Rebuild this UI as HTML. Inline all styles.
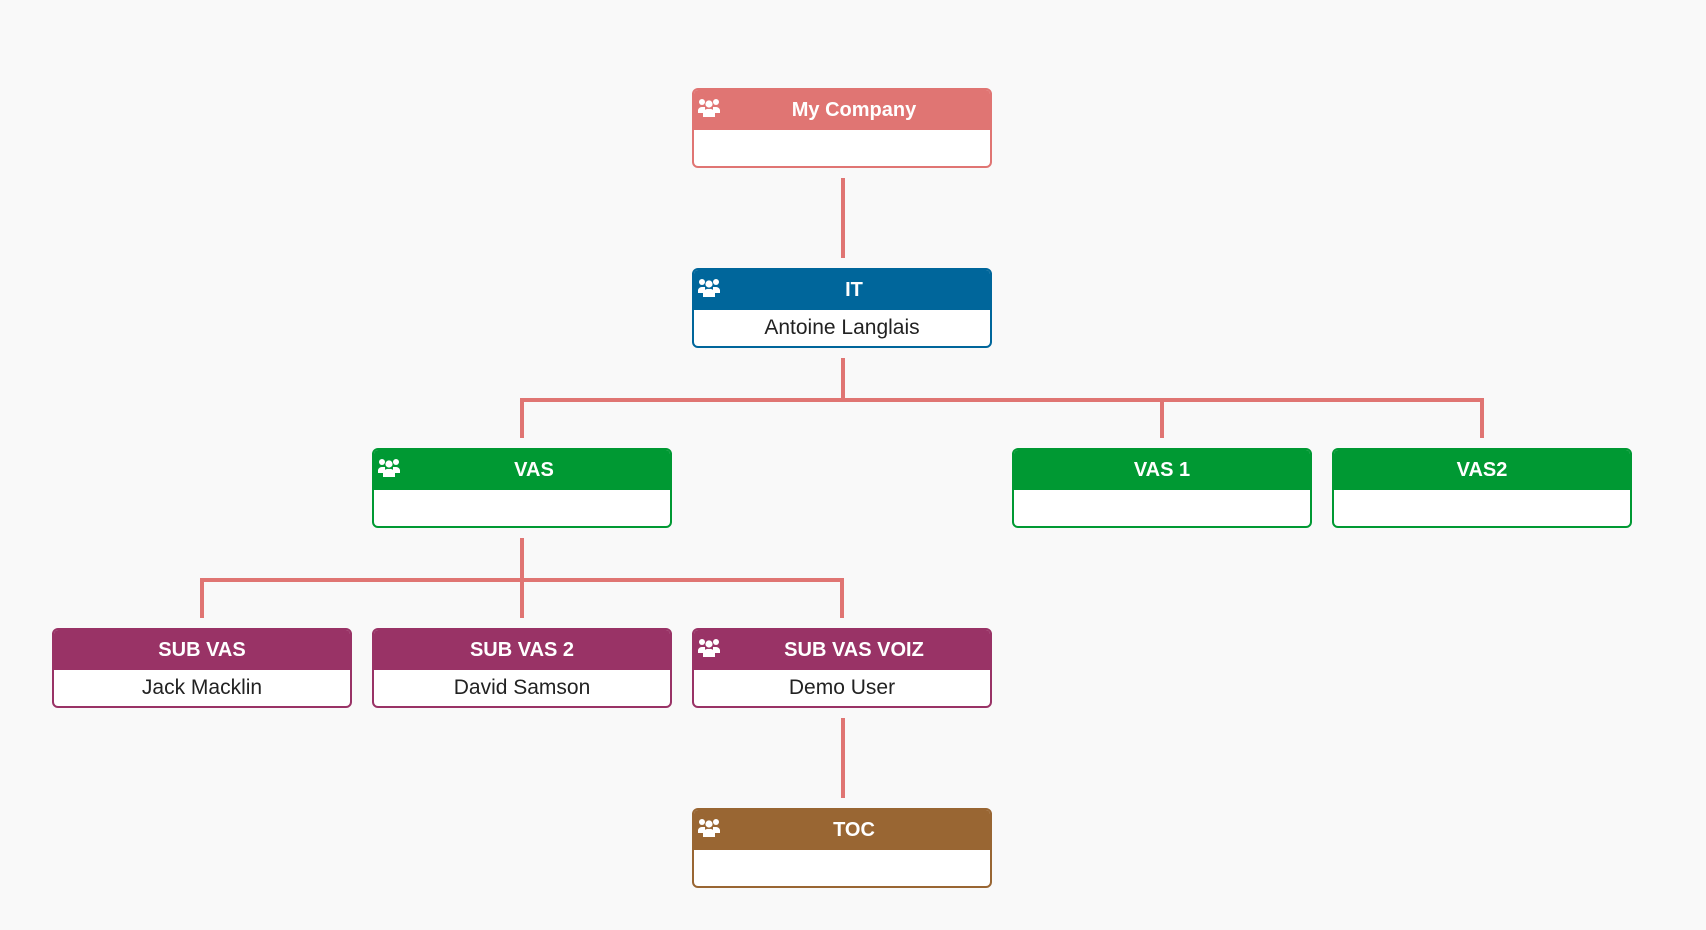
<!DOCTYPE html>
<html><head><meta charset="utf-8"><style>
body{margin:0;width:1706px;height:930px;background:#f9f9f9;position:relative;overflow:hidden;font-family:"Liberation Sans","DejaVu Sans",sans-serif}
.n{position:absolute;width:296px;height:76px;border:2px solid;border-radius:6px;background:#fff;overflow:hidden}
.h{height:40px;color:#fff;font-weight:bold;font-size:20px;line-height:40px;text-align:center;padding-left:24px;position:relative}
.b{height:36px;line-height:36px;text-align:center;font-size:21px;color:#222}
.ic{position:absolute;left:4px;top:8px;width:22px;height:20px}
.l{position:absolute;background:#e07573}
</style></head><body>
<svg width="0" height="0" style="position:absolute"><defs><g id="u" fill="#fff"><circle cx="4" cy="4" r="3"/><circle cx="18" cy="4" r="3"/><circle cx="11" cy="6" r="3.6"/><path d="M0 14a4 4 0 0 1 4-5h3v6H0z"/><path d="M22 14a4 4 0 0 0-4-5h-3v6h7z"/><path d="M5 19v-4a5 5 0 0 1 6-4a5 5 0 0 1 6 4v4z"/></g></defs></svg>

<div class="l" style="left:841px;top:178px;width:4px;height:80px"></div>
<div class="l" style="left:841px;top:358px;width:4px;height:42px"></div>
<div class="l" style="left:520px;top:398px;width:964px;height:4px"></div>
<div class="l" style="left:520px;top:398px;width:4px;height:40px"></div>
<div class="l" style="left:1160px;top:398px;width:4px;height:40px"></div>
<div class="l" style="left:1480px;top:398px;width:4px;height:40px"></div>
<div class="l" style="left:520px;top:538px;width:4px;height:80px"></div>
<div class="l" style="left:200px;top:578px;width:644px;height:4px"></div>
<div class="l" style="left:200px;top:578px;width:4px;height:40px"></div>
<div class="l" style="left:840px;top:578px;width:4px;height:40px"></div>
<div class="l" style="left:841px;top:718px;width:4px;height:80px"></div>

<div class="n" style="left:692px;top:88px;border-color:#e07573"><div class="h" style="background:#e07573"><svg class="ic"><use href="#u"/></svg>My Company</div><div class="b"></div></div>
<div class="n" style="left:692px;top:268px;border-color:#00669b"><div class="h" style="background:#00669b"><svg class="ic"><use href="#u"/></svg>IT</div><div class="b">Antoine Langlais</div></div>
<div class="n" style="left:372px;top:448px;border-color:#009933"><div class="h" style="background:#009933"><svg class="ic"><use href="#u"/></svg>VAS</div><div class="b"></div></div>
<div class="n" style="left:1012px;top:448px;border-color:#009933"><div class="h" style="background:#009933;padding-left:0">VAS 1</div><div class="b"></div></div>
<div class="n" style="left:1332px;top:448px;border-color:#009933"><div class="h" style="background:#009933;padding-left:0">VAS2</div><div class="b"></div></div>
<div class="n" style="left:52px;top:628px;border-color:#993366"><div class="h" style="background:#993366;padding-left:0">SUB VAS</div><div class="b">Jack Macklin</div></div>
<div class="n" style="left:372px;top:628px;border-color:#993366"><div class="h" style="background:#993366;padding-left:0">SUB VAS 2</div><div class="b">David Samson</div></div>
<div class="n" style="left:692px;top:628px;border-color:#993366"><div class="h" style="background:#993366"><svg class="ic"><use href="#u"/></svg>SUB VAS VOIZ</div><div class="b">Demo User</div></div>
<div class="n" style="left:692px;top:808px;border-color:#996633"><div class="h" style="background:#996633"><svg class="ic"><use href="#u"/></svg>TOC</div><div class="b"></div></div>
</body></html>
